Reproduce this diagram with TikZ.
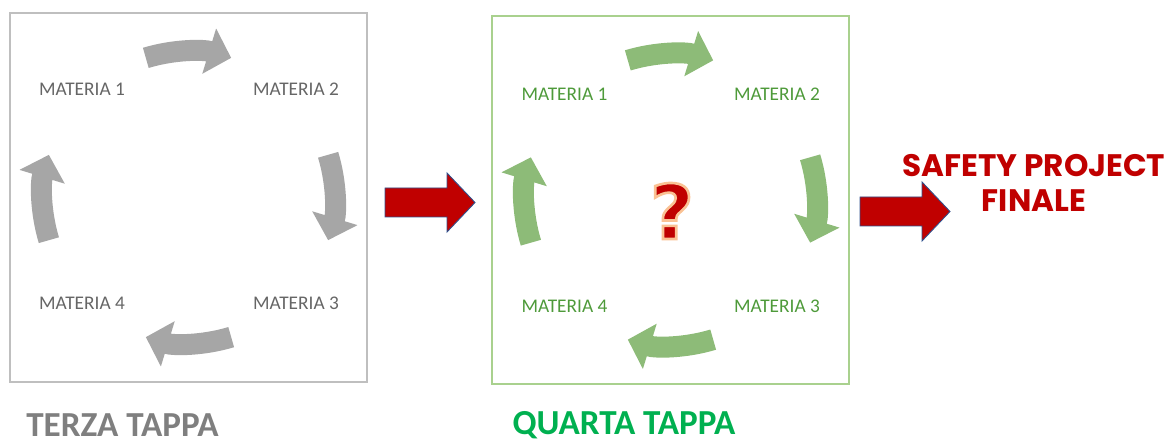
\documentclass[tikz,border=0pt]{standalone}
\usepackage{fontspec}
\setmainfont{Carlito}
\newfontfamily\gothic{Poppins}
\newfontfamily\chunky{DejaVu Sans}
\usetikzlibrary{arrows.meta}
\definecolor{boxgray}{HTML}{BFBFBF}
\definecolor{arcgray}{HTML}{A6A6A6}
\definecolor{txtgray}{HTML}{666666}
\definecolor{boxgreen}{HTML}{A9D18E}
\definecolor{arcgreen}{HTML}{8DBB78}
\definecolor{txtgreen}{HTML}{4E9A3A}
\definecolor{darkred}{HTML}{C00000}
\definecolor{rimblue}{HTML}{2F528F}
\definecolor{tappagray}{HTML}{7F7F7F}
\definecolor{tappagreen}{HTML}{00B050}
\newcommand\glowmark[1]{\special{pdf:literal direct q 2 Tr 1.5 w 0.98 0.76 0.58 RG}#1\special{pdf:literal direct Q}}
\tikzset{
    stage/.style={draw, line width=1.2pt, minimum width=7.14cm, minimum height=7.38cm},
    subject/.style={font=\fontsize{11}{13}\selectfont},
    cyclearc/.style={line width=0.42cm, -{Triangle[width=0.92cm 0, length=0.46cm 0]}},
    stagename/.style={anchor=base, font=\fontsize{20}{24}\selectfont\bfseries},
    redarrow/.pic={\draw[fill=darkred, draw=rimblue, line width=0.5pt]
        (0,-14.5) -- (62,-14.5) -- (62,-29.5) -- (90,0) -- (62,29.5) -- (62,14.5) -- (0,14.5) -- cycle;}
}
\begin{document}
\begin{tikzpicture}[x=0.02cm, y=0.02cm]
    \useasboundingbox (0,0) rectangle (1173,446);

    \node[stage, boxgray] (terza) at (188.5,248.5) {};
    \node[stage, boxgreen, minimum height=7.36cm] (quarta) at (670.5,246) {};

    \node[subject, txtgray] (t1) at (82,356.5) {MATERIA 1};
    \node[subject, txtgray] (t2) at (296,356.5) {MATERIA 2};
    \node[subject, txtgray] (t3) at (296,143) {MATERIA 3};
    \node[subject, txtgray] (t4) at (82,143) {MATERIA 4};

    \node[subject, txtgreen] (q1) at (564.5,351.5) {MATERIA 1};
    \node[subject, txtgreen] (q2) at (777,351.5) {MATERIA 2};
    \node[subject, txtgreen] (q3) at (777,140) {MATERIA 3};
    \node[subject, txtgreen] (q4) at (564.5,140) {MATERIA 4};

    \foreach \s in {107,17,-73,-163} {
        \draw[cyclearc, arcgray] (terza.center) ++(\s:146) arc[start angle=\s, end angle=\s-34, radius=146];
        \draw[cyclearc, arcgreen] (quarta.center) ++(\s:146) arc[start angle=\s, end angle=\s-34, radius=146];
    }

    \node[font=\chunky\bfseries\fontsize{43}{43}\selectfont, text=darkred] (ask) at (672,235) {\glowmark{?}};

    \pic at (385,243.5) {redarrow};
    \pic at (860,234.5) {redarrow};

    \node[align=center, text=darkred, font=\gothic\bfseries\fontsize{17.7}{20.4}\selectfont] (goal) at (1034,263) {SAFETY PROJECT\\FINALE};

    \node[stagename, tappagray] (terzaname) at (122.5,9) {TERZA TAPPA};
    \node[stagename, tappagreen] (quartaname) at (624,11) {QUARTA TAPPA};
\end{tikzpicture}
\end{document}
